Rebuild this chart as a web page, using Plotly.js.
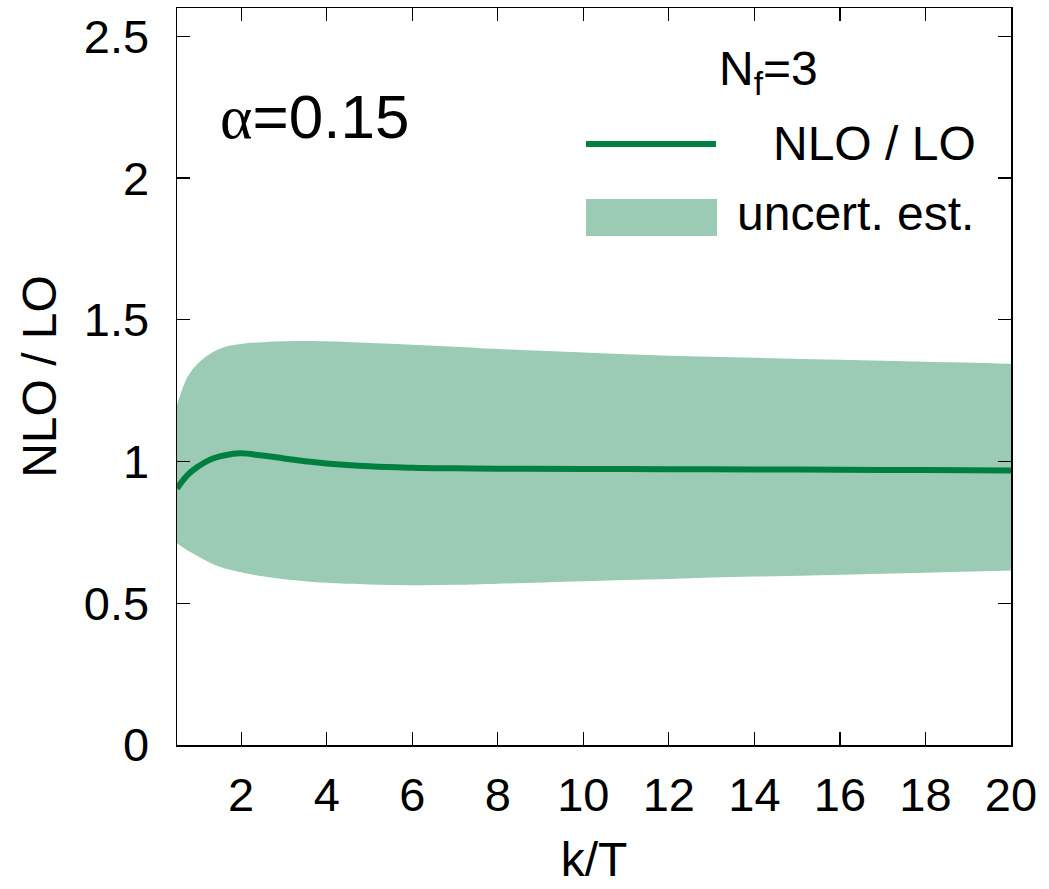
<!DOCTYPE html>
<html>
<head>
<meta charset="utf-8">
<script src="https://cdn.plot.ly/plotly-3.0.1.min.js"></script>
<style>html,body{margin:0;padding:0;background:#fff;}</style>
</head>
<body>
<div id="chart" style="width:1049px;height:889px;"></div>
<script>
// k/T sample points
const kT = [0.5, 0.75, 1.0, 1.25, 1.5, 1.75, 2.0, 2.5, 3.0, 3.5, 4.0, 5.0, 6.0, 7.0, 8.0, 10.0, 12.0, 14.0, 16.0, 18.0, 20.0];
// NLO / LO central curve
const ratio = [0.905, 0.953, 0.983, 1.005, 1.018, 1.026, 1.029, 1.021, 1.011, 1.001, 0.993, 0.983, 0.978, 0.976, 0.975, 0.974, 0.973, 0.972, 0.971, 0.970, 0.968];
// uncertainty band
const bandUpper = [1.200, 1.300, 1.348, 1.378, 1.398, 1.409, 1.415, 1.421, 1.424, 1.425, 1.424, 1.418, 1.412, 1.405, 1.397, 1.385, 1.373, 1.366, 1.359, 1.352, 1.345];
const bandLower = [0.712, 0.686, 0.665, 0.645, 0.629, 0.618, 0.609, 0.595, 0.585, 0.578, 0.572, 0.566, 0.564, 0.565, 0.569, 0.578, 0.586, 0.594, 0.601, 0.608, 0.616];
const xTicks = [2, 4, 6, 8, 10, 12, 14, 16, 18, 20];
const yTicks = [0, 0.5, 1, 1.5, 2, 2.5];
const yTickText = ["0", "0.5", "1", "1.5", "2", "2.5"];

const lineColor = "rgb(0,128,64)";
const bandColor = "rgb(155,203,180)";
const FONT = "'Liberation Sans', Arial, Helvetica, sans-serif";

// plot area geometry in pixels
const W = 1049, H = 889;
const L = 177, R = 1011, T = 8, B = 745;
const px = v => (v - L) / (R - L);
const py = v => (B - v) / (B - T);

const traces = [
  { x: kT, y: bandLower, mode: "lines", line: {width: 0, color: bandColor, shape: "spline"},
    showlegend: false, hoverinfo: "skip", name: "lower" },
  { x: kT, y: bandUpper, mode: "lines", line: {width: 0, color: bandColor, shape: "spline"},
    fill: "tonexty", fillcolor: bandColor, showlegend: false, name: "uncert. est." },
  { x: kT, y: ratio, mode: "lines", line: {width: 6, color: lineColor, shape: "spline", smoothing: 1.2},
    showlegend: false, name: "NLO / LO" }
];

const axisCommon = {
  showline: true, linecolor: "#000", linewidth: 1.5, mirror: "ticks",
  ticks: "inside", ticklen: 13, tickwidth: 1.2, tickcolor: "#000",
  showgrid: false, zeroline: false,
  tickfont: {family: FONT, size: 47, color: "#000"}
};

const layout = {
  width: W, height: H,
  margin: {l: L, r: W - R, t: T, b: H - B},
  paper_bgcolor: "#fff", plot_bgcolor: "#fff",
  font: {family: FONT, color: "#000"},
  showlegend: false,
  xaxis: Object.assign({}, axisCommon, {
    range: [0.5, 20], tickvals: xTicks, ticklabelstandoff: 8,
    title: {text: "k/T", font: {family: FONT, size: 48, color: "#000"}, standoff: 22}
  }),
  yaxis: Object.assign({}, axisCommon, {
    range: [0, 2.6], tickvals: yTicks, ticktext: yTickText, ticklabelstandoff: 17,
    title: {text: "NLO / LO", font: {family: FONT, size: 48, color: "#000"}, standoff: 12}
  }),
  shapes: [
    {type: "line", xref: "paper", yref: "paper", x0: px(586), x1: px(716), y0: py(144), y1: py(144),
     line: {color: lineColor, width: 6}},
    {type: "rect", xref: "paper", yref: "paper", x0: px(586), x1: px(717), y0: py(236), y1: py(199),
     fillcolor: bandColor, line: {width: 0}}
  ],
  annotations: [
    {xref: "paper", yref: "paper", x: px(218), y: py(116), xanchor: "left", yanchor: "middle",
     text: "<span style=\"font-family:'Liberation Serif','DejaVu Serif',serif\">α</span>=0.15",
     showarrow: false, font: {family: FONT, size: 62, color: "#000"}},
    {xref: "paper", yref: "paper", x: px(768), y: py(72), xanchor: "center", yanchor: "middle",
     text: "N<sub>f</sub>=3", showarrow: false, font: {family: FONT, size: 48, color: "#000"}},
    {xref: "paper", yref: "paper", x: px(978), y: py(143), xanchor: "right", yanchor: "middle",
     text: "NLO / LO", showarrow: false, font: {family: FONT, size: 48, color: "#000"}},
    {xref: "paper", yref: "paper", x: px(976), y: py(214), xanchor: "right", yanchor: "middle",
     text: "uncert. est.", showarrow: false, font: {family: FONT, size: 48, color: "#000"}}
  ]
};

Plotly.newPlot("chart", traces, layout, {displayModeBar: false, staticPlot: true});
</script>
</body>
</html>
